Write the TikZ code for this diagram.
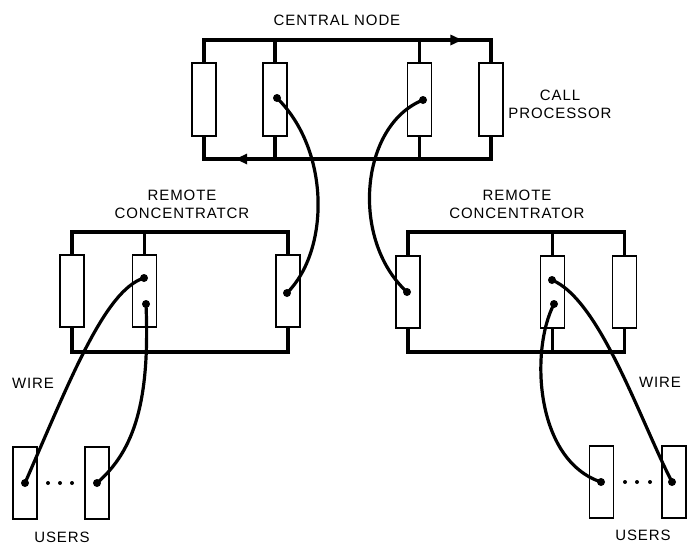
\documentclass[tikz,border=0pt]{standalone}
\usepackage{fontspec}
\setmainfont{Liberation Sans}[LetterSpace=6]
\usetikzlibrary{arrows.meta,decorations.markings}
\begin{document}
\begin{tikzpicture}[x=1pt,y=-1pt,
  box/.style={draw,line width=1.8pt,minimum width=24pt,minimum height=72pt,inner sep=0pt},
  frame/.style={line width=3.6pt},
  wire/.style={line width=3.2pt},
  lbl/.style={font=\fontsize{15}{18}\selectfont,align=center,inner sep=0pt},
  dotn/.style={circle,fill=black,inner sep=0pt,minimum size=8pt},
  edot/.style={circle,fill=black,inner sep=0pt,minimum size=4pt},
  midarrow/.style={postaction={decorate},decoration={markings,mark=at position #1 with {\arrow{Triangle[length=12pt,width=10pt]}}}}]
\useasboundingbox (0,0) rectangle (691,544);

% ---------- central node ----------
\node[lbl] (tcn) at (337,20) {CENTRAL NODE};
\node[lbl] (tcp) at (560,104) {CALL\\PROCESSOR};
\node[box,minimum height=73pt] (c1) at (204,99.5) {};
\node[box,minimum height=73pt] (c2) at (275,99.5) {};
\node[box,minimum height=73pt] (c3) at (419.5,99.5) {};
\node[box,minimum height=73pt] (c4) at (491,99.5) {};
\coordinate (ctop) at (0,40);
\coordinate (cbot) at (0,159);
\draw[frame,line cap=rect] (c1.north) |- (c3.north |- ctop);
\draw[frame,midarrow=0.6] (c3.north |- ctop) -- (c4.north |- ctop);
\draw[frame,line cap=rect] (c4.north |- ctop) -- (c4.north);
\draw[frame] (c2.north) -- (c2.north |- ctop);
\draw[frame] (c3.north) -- (c3.north |- ctop);
\draw[frame,line cap=rect] (c4.south) |- (c2.south |- cbot);
\draw[frame,midarrow=0.56] (c2.south |- cbot) -- (c1.south |- cbot);
\draw[frame,line cap=rect] (c1.south |- cbot) -- (c1.south);
\draw[frame] (c2.south) -- (c2.south |- cbot);
\draw[frame] (c3.south) -- (c3.south |- cbot);
\node[dotn] (d2) at (277,98) {};
\node[dotn] (d3) at (423,100) {};

% ---------- left remote concentrator ----------
\node[lbl] (tlr) at (182,204) {REMOTE\\CONCENTRATCR};
\node[box] (l1) at (72,291) {};
\node[box] (l2) at (144.5,291) {};
\node[box] (l3) at (288,291) {};
\coordinate (ltop) at (0,232);
\coordinate (lbot) at (0,352);
\draw[frame,line cap=rect] (l1.north) |- (l3.north |- ltop) -- (l3.north);
\draw[frame] (l2.north) -- (l2.north |- ltop);
\draw[frame,line cap=rect] (l1.south) |- (l3.south |- lbot) -- (l3.south);
\node[dotn] (la) at (144,278) {};
\node[dotn] (lb) at (146,304) {};
\node[dotn] (lc) at (287,293) {};

% ---------- right remote concentrator ----------
\node[lbl] (trr) at (517,204) {REMOTE\\CONCENTRATOR};
\node[box] (r1) at (408,292) {};
\node[box] (r2) at (552.5,292) {};
\node[box] (r3) at (624.5,292) {};
\coordinate (rtop) at (0,232);
\coordinate (rbot) at (0,352);
\draw[frame,line cap=rect] (r1.north) |- (r3.north |- rtop) -- (r3.north);
\draw[frame] (r2.north) -- (r2.north |- rtop);
\draw[frame,line cap=rect] (r1.south) |- (r3.south |- rbot) -- (r3.south);
\draw[frame] (r2.south) -- (r2.south |- rbot);
\node[dotn] (ra) at (407,292) {};
\node[dotn] (rb) at (552,280) {};
\node[dotn] (rc) at (554,304) {};

% ---------- users ----------
\node[box] (u1) at (25,483) {};
\node[box] (u2) at (97,483) {};
\node[dotn] (ud1) at (25,483) {};
\node[dotn] (ud2) at (97,483) {};
\node[edot] (e1) at (48,483) {};
\node[edot] (e2) at (60,483) {};
\node[edot] (e3) at (72,483) {};
\node[lbl] (tw1) at (33,383) {WIRE};
\node[lbl] (tu1) at (62,537) {USERS};

\node[box] (v1) at (601.5,482) {};
\node[box] (v2) at (674,482) {};
\node[dotn] (vd1) at (601,482) {};
\node[dotn] (vd2) at (672,482) {};
\node[edot] (f1) at (625,482) {};
\node[edot] (f2) at (637,482) {};
\node[edot] (f3) at (650,482) {};
\node[lbl] (tw2) at (660,382) {WIRE};
\node[lbl] (tu2) at (643,535) {USERS};

% ---------- wires ----------
\draw[wire] (d2.center) .. controls (330,150) and (330,250) .. (lc.center);
\draw[wire] (d3.center) .. controls (360,125) and (350,240) .. (ra.center);
\draw[wire] (la.center) .. controls (105,290) and (70,380) .. (ud1.center);
\draw[wire] (lb.center) .. controls (150,400) and (135,450) .. (ud2.center);
\draw[wire] (rb.center) .. controls (600,300) and (640,420) .. (vd2.center);
\draw[wire] (rc.center) .. controls (530,350) and (535,460) .. (vd1.center);
\end{tikzpicture}
\end{document}
